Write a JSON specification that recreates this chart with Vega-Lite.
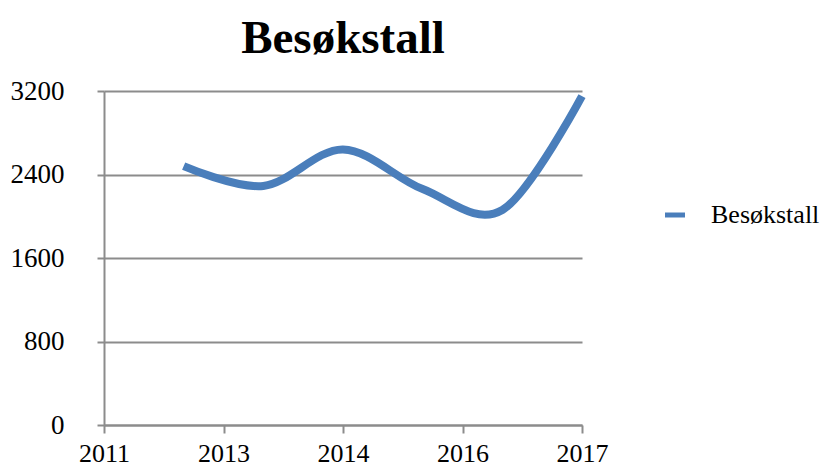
{
  "$schema": "https://vega.github.io/schema/vega-lite/v6.json",
  "autosize": {"type": "none"},
  "padding": {"left": 104, "top": 91, "right": 249, "bottom": 40},
  "width": 478,
  "height": 334,
  "background": "white",
  "title": {
    "text": "Besøkstall",
    "font": "Liberation Serif",
    "fontSize": 47,
    "fontWeight": "bold",
    "color": "black",
    "anchor": "middle",
    "offset": 14
  },
  "data": {
    "values": [
      {"year": 2012, "visits": 2480, "series": "Besøkstall"},
      {"year": 2013, "visits": 2290, "series": "Besøkstall"},
      {"year": 2014, "visits": 2640, "series": "Besøkstall"},
      {"year": 2015, "visits": 2260, "series": "Besøkstall"},
      {"year": 2016, "visits": 2060, "series": "Besøkstall"},
      {"year": 2017, "visits": 3150, "series": "Besøkstall"}
    ]
  },
  "mark": {"type": "line", "interpolate": "cardinal", "strokeWidth": 8, "strokeCap": "butt"},
  "encoding": {
    "x": {
      "field": "year",
      "type": "quantitative",
      "scale": {"domain": [2011, 2017], "nice": false, "zero": false},
      "axis": {
        "title": null,
        "values": [2011, 2012.5, 2014, 2015.5, 2017],
        "labelExpr": "toString(round(datum.value))",
        "grid": false,
        "tickSize": 8,
        "tickWidth": 2,
        "tickColor": "#8c8c8c",
        "domainColor": "#8c8c8c",
        "domainWidth": 2,
        "labelFont": "Liberation Serif",
        "labelFontSize": 26,
        "labelColor": "black",
        "labelPadding": 7,
        "labelFlush": false,
        "labelOverlap": false,
        "labelBound": false
      }
    },
    "y": {
      "field": "visits",
      "type": "quantitative",
      "scale": {"domain": [0, 3200], "nice": false},
      "axis": {
        "title": null,
        "values": [0, 800, 1600, 2400, 3200],
        "format": "d",
        "grid": true,
        "gridColor": "#8c8c8c",
        "gridWidth": 2,
        "gridOpacity": 1,
        "tickSize": 7,
        "tickWidth": 2,
        "tickColor": "#8c8c8c",
        "domainColor": "#8c8c8c",
        "domainWidth": 2,
        "labelFont": "Liberation Serif",
        "labelFontSize": 27,
        "labelColor": "black",
        "labelPadding": 33,
        "labelOverlap": false,
        "labelBound": false,
        "labelFlush": false
      }
    },
    "color": {
      "field": "series",
      "type": "nominal",
      "scale": {"range": ["#4a7ebb"]},
      "legend": {
        "title": null,
        "orient": "none",
        "legendX": 558,
        "legendY": 111,
        "padding": 0,
        "symbolType": "stroke",
        "symbolSize": 400,
        "symbolStrokeWidth": 5,
        "labelFont": "Liberation Serif",
        "labelFontSize": 26,
        "labelColor": "black",
        "labelOffset": 23
      }
    }
  },
  "config": {"view": {"stroke": null}}
}
